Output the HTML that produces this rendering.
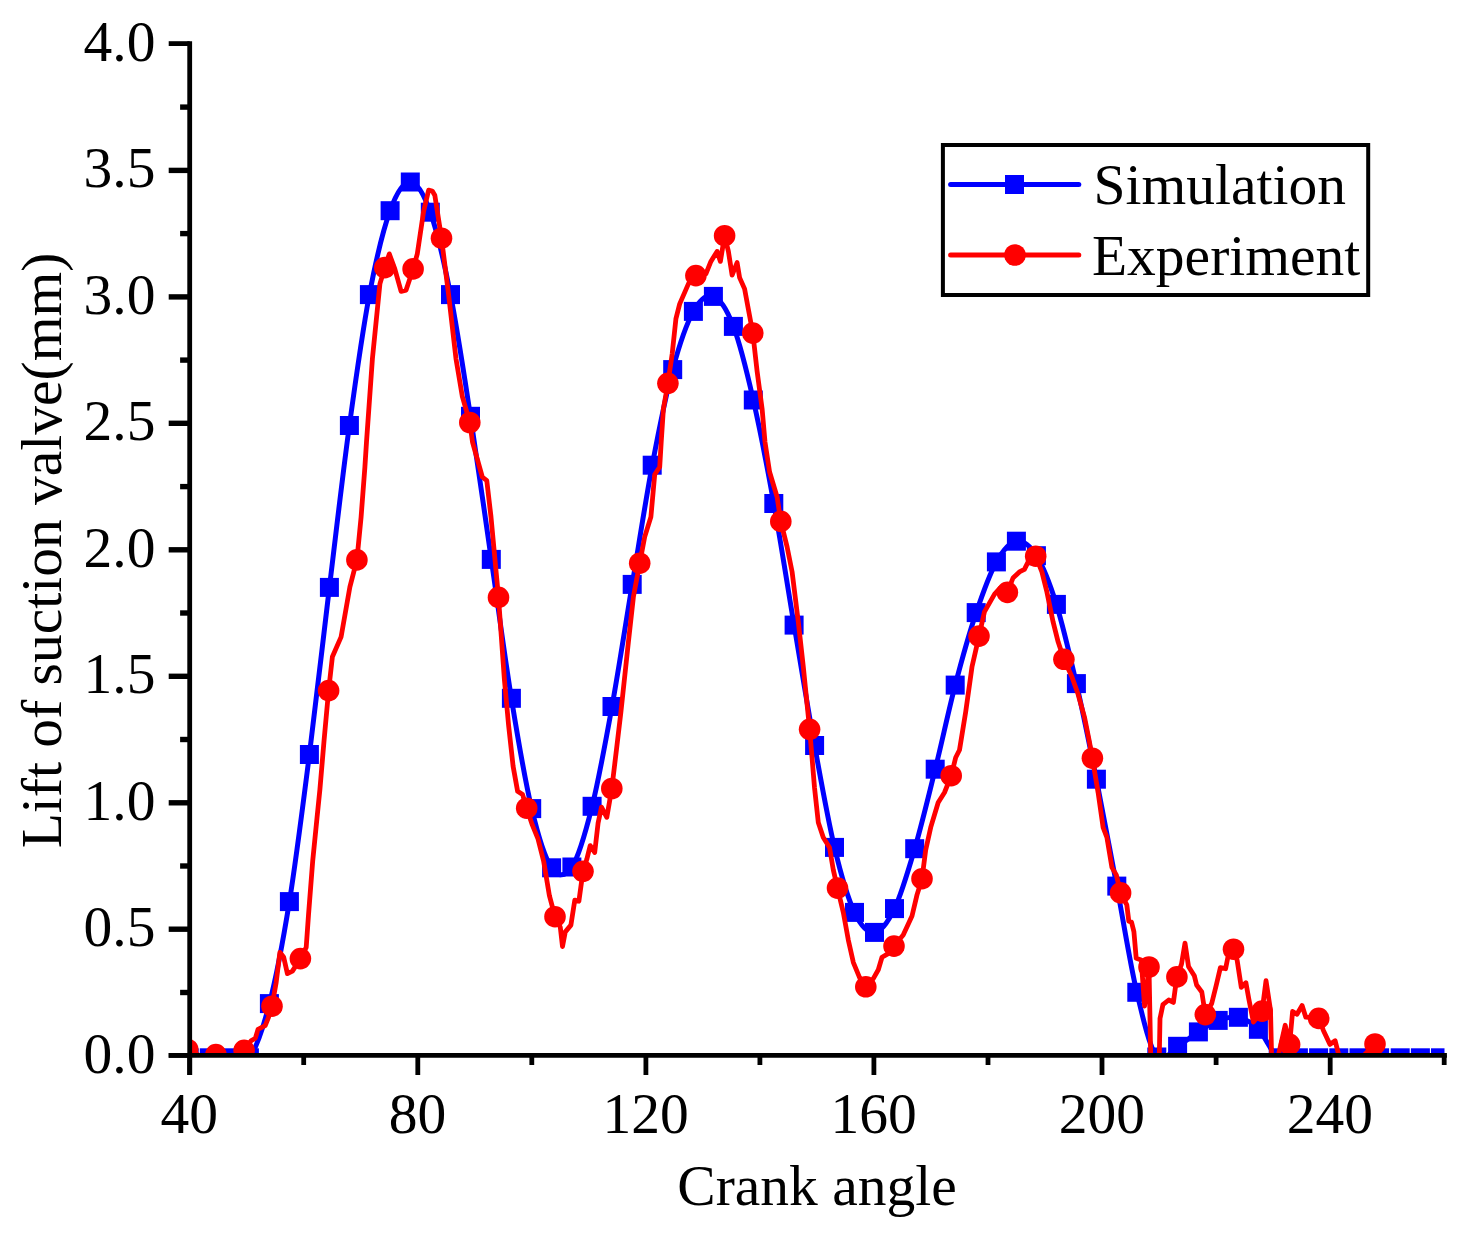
<!DOCTYPE html>
<html><head><meta charset="utf-8"><title>Lift of suction valve</title>
<style>
html,body{margin:0;padding:0;background:#fff}
svg{display:block}
text{font-family:"Liberation Serif",serif;font-size:57.5px;fill:#000}
</style></head>
<body>
<svg width="1465" height="1234" viewBox="0 0 1465 1234">
<rect width="1465" height="1234" fill="#fff"/>
<defs><clipPath id="fr"><rect x="189.7" y="43.6" width="1254.8" height="1011.8"/></clipPath></defs>
<g clip-path="url(#fr)">
<path d="M189.2 1057.8C192.5 1057.8 202.6 1057.8 209.3 1057.8C216 1057.8 222.7 1057.8 229.4 1057.8C236.1 1057.8 242.7 1066.8 249.4 1057.8C256.1 1048.8 262.7 1029.6 269.4 1003.6C276.1 977.6 282.7 943.1 289.4 901.6C296.1 860.1 302.7 806.9 309.4 754.5C316.1 702.1 322.7 642.2 329.4 587.4C336.1 532.6 342.7 474.3 349.4 425.5C356.1 376.7 362.6 330.4 369.4 294.6C376.2 258.8 383.3 229.5 390.1 210.7C396.9 191.9 403.6 181.8 410.3 182C417 182.2 423.6 193.4 430.3 212.2C437 231 443.8 260.6 450.5 294.6C457.2 328.6 463.7 372.2 470.5 416.3C477.3 460.4 484.5 512.4 491.3 559.4C498.1 606.4 504.7 656.8 511.4 698.3C518.1 739.8 525 780.4 531.7 808.6C538.4 836.9 544.9 858.1 551.6 867.8C558.3 877.5 565.1 877.2 571.9 867C578.6 856.8 585.4 833 592.1 806.3C598.8 779.5 605.3 743.5 612 706.5C618.7 669.5 625.5 624.6 632.2 584.4C638.9 544.2 645.5 501 652.2 465.2C659 429.4 665.8 395.2 672.7 369.6C679.6 344 686.6 323.6 693.4 311.4C700.2 299.2 706.7 293.9 713.4 296.4C720.1 298.9 726.8 309.1 733.4 326.4C740 343.7 746.6 370.5 753.3 400C760 429.5 767 466 773.8 503.5C780.6 541 787.3 584.8 794.1 625.1C800.9 665.4 807.9 708.5 814.6 745.5C821.3 782.5 827.9 819.6 834.5 847.4C841.1 875.2 847.8 898.2 854.5 912.4C861.2 926.6 867.8 933 874.5 932.4C881.2 931.8 887.8 922.5 894.5 908.6C901.2 894.7 907.9 871.9 914.7 848.7C921.5 825.5 928.5 796.5 935.2 769.2C942 741.9 948.4 711.2 955.2 685.1C962 659 969.3 633.1 976.2 612.6C983.1 592.1 989.7 573.8 996.4 561.9C1003.1 550 1009.7 542.2 1016.4 541.2C1023.1 540.2 1029.7 545.2 1036.4 555.7C1043.1 566.2 1049.7 583.1 1056.4 604.4C1063.1 625.7 1069.7 654.5 1076.4 683.6C1083.1 712.7 1089.7 745.5 1096.4 779.2C1103.1 813 1110.1 850.6 1116.8 886.1C1123.5 921.6 1130.1 963.8 1136.8 992.3C1143.5 1020.8 1150 1048 1156.8 1057C1163.6 1066 1170.7 1050.5 1177.6 1046.3C1184.5 1042.1 1191.6 1036.2 1198.4 1031.9C1205.2 1027.6 1211.5 1022.8 1218.2 1020.4C1224.9 1018 1231.7 1015.8 1238.4 1017.3C1245.1 1018.8 1251.8 1022.5 1258.4 1029.3C1265 1036 1271.5 1053 1278.2 1057.8C1284.9 1062.5 1291.7 1057.8 1298.4 1057.8C1305.1 1057.8 1311.9 1057.8 1318.6 1057.8C1325.3 1057.8 1332.1 1057.8 1338.8 1057.8C1345.5 1057.8 1352.2 1057.8 1359 1057.8C1365.8 1057.8 1372.7 1057.8 1379.6 1057.8C1386.5 1057.8 1393.4 1057.8 1400.2 1057.8C1407 1057.8 1413.7 1057.8 1420.4 1057.8C1427.1 1057.8 1437.2 1057.8 1440.5 1057.8" fill="none" stroke="#00f" stroke-width="5" stroke-linejoin="round"/>
<g fill="#00f"><rect x="179.7" y="1048.3" width="19" height="19"/><rect x="199.8" y="1048.3" width="19" height="19"/><rect x="219.9" y="1048.3" width="19" height="19"/><rect x="239.9" y="1048.3" width="19" height="19"/><rect x="259.9" y="994.1" width="19" height="19"/><rect x="279.9" y="892.1" width="19" height="19"/><rect x="299.9" y="745" width="19" height="19"/><rect x="319.9" y="577.9" width="19" height="19"/><rect x="339.9" y="416" width="19" height="19"/><rect x="359.9" y="285.1" width="19" height="19"/><rect x="380.6" y="201.2" width="19" height="19"/><rect x="400.8" y="172.5" width="19" height="19"/><rect x="420.8" y="202.7" width="19" height="19"/><rect x="441" y="285.1" width="19" height="19"/><rect x="461" y="406.8" width="19" height="19"/><rect x="481.8" y="549.9" width="19" height="19"/><rect x="501.9" y="688.8" width="19" height="19"/><rect x="522.2" y="799.1" width="19" height="19"/><rect x="542.1" y="858.3" width="19" height="19"/><rect x="562.4" y="857.5" width="19" height="19"/><rect x="582.6" y="796.8" width="19" height="19"/><rect x="602.5" y="697" width="19" height="19"/><rect x="622.7" y="574.9" width="19" height="19"/><rect x="642.7" y="455.7" width="19" height="19"/><rect x="663.2" y="360.1" width="19" height="19"/><rect x="683.9" y="301.9" width="19" height="19"/><rect x="703.9" y="286.9" width="19" height="19"/><rect x="723.9" y="316.9" width="19" height="19"/><rect x="743.8" y="390.5" width="19" height="19"/><rect x="764.3" y="494" width="19" height="19"/><rect x="784.6" y="615.6" width="19" height="19"/><rect x="805.1" y="736" width="19" height="19"/><rect x="825" y="837.9" width="19" height="19"/><rect x="845" y="902.9" width="19" height="19"/><rect x="865" y="922.9" width="19" height="19"/><rect x="885" y="899.1" width="19" height="19"/><rect x="905.2" y="839.2" width="19" height="19"/><rect x="925.7" y="759.7" width="19" height="19"/><rect x="945.7" y="675.6" width="19" height="19"/><rect x="966.7" y="603.1" width="19" height="19"/><rect x="986.9" y="552.4" width="19" height="19"/><rect x="1006.9" y="531.7" width="19" height="19"/><rect x="1026.9" y="546.2" width="19" height="19"/><rect x="1046.9" y="594.9" width="19" height="19"/><rect x="1066.9" y="674.1" width="19" height="19"/><rect x="1086.9" y="769.7" width="19" height="19"/><rect x="1107.3" y="876.6" width="19" height="19"/><rect x="1127.3" y="982.8" width="19" height="19"/><rect x="1147.3" y="1047.5" width="19" height="19"/><rect x="1168.1" y="1036.8" width="19" height="19"/><rect x="1188.9" y="1022.4" width="19" height="19"/><rect x="1208.7" y="1010.9" width="19" height="19"/><rect x="1228.9" y="1007.8" width="19" height="19"/><rect x="1248.9" y="1019.8" width="19" height="19"/><rect x="1268.7" y="1048.3" width="19" height="19"/><rect x="1288.9" y="1048.3" width="19" height="19"/><rect x="1309.1" y="1048.3" width="19" height="19"/><rect x="1329.3" y="1048.3" width="19" height="19"/><rect x="1349.5" y="1048.3" width="19" height="19"/><rect x="1370.1" y="1048.3" width="19" height="19"/><rect x="1390.7" y="1048.3" width="19" height="19"/><rect x="1410.9" y="1048.3" width="19" height="19"/><rect x="1431" y="1048.3" width="19" height="19"/></g>
<path d="M187.7 1049.5L196 1053.5L202 1057.5L215.9 1054.6L227 1058L236 1057.5L244.1 1050.4L251 1040.8L255.4 1038.2L258 1029.3L265.2 1025.7L268.7 1016.9L272 1006.2L276.2 982.3L279.9 952.3L283.7 957.3L287.4 973.6L292.4 971.1L300.4 958.6L306.2 947.3L308.5 915L312.7 861L317 818L319.9 789.6L324.1 740L328.6 690.6L332.4 656.8L341.1 636.9L349.9 586.9L356.9 559.9L361.1 516.9L364.9 467L366.5 442L372.4 358.8L379.9 283.9L384.8 267.6L389.3 253.9L394.8 268.9L401.1 291.4L406.1 290.1L413.1 268.9L417.3 253.9L423.6 211.4L428.6 190.2L432.3 191L434.8 195.2L441.5 238.2L448.5 293.9L456 358.8L462.3 396.3L469.8 422.5L472.5 442L476 454.5L482.3 477L486.8 480.7L491 516.9L498.5 597.4L504.4 679.6L508.6 725.4L513.1 766.2L517.6 791.2L522.6 794.6L526.7 808.2L532.4 825.2L538 838.8L543.7 861.5L549.4 895.6L555 916.7L560.3 927.3L562.5 946.6L565.3 931.9L570.9 925.1L574.8 900.1L578.9 901.2L583 871.3L586.8 859.3L590.2 845.6L594.7 852.5L598.1 823L601.5 807.1L606.8 817.3L611.8 788.5L616.6 748.5L620.8 713L628.4 641.9L633.4 596.9L639.7 563.2L644.7 536.9L650.9 516.9L654.7 474.5L659.7 467L661.2 442L663.4 408.8L667.9 383.3L672.2 353.8L675.9 318.9L679.7 303.9L688.4 283.9L695.9 275.6L705.9 273.9L710.9 261.4L717.1 251.4L720.4 261.4L724.6 235.7L728.4 251.4L732.1 275.1L737.1 262.6L739.6 277.6L744.6 288.9L748.3 308.9L752.8 333.1L757.1 371.3L762.1 408.8L765 442L769.6 472L777.1 497L780.8 521.4L787.1 546.9L792.1 571.9L798.3 621.9L803.3 666.8L809.6 729.3L811.4 750L814.5 787.5L818.3 822.4L823.3 837.4L829.5 847.4L833.3 869.9L837.5 888.1L843.3 912.4L848.3 939.9L853.3 962.3L859.5 977.3L865.8 986.8L873.3 978.6L878.3 969.8L882 957.3L888.2 953.6L894 946.1L903.2 934.9L912 916L917 894.9L922 878.7L925.7 849.9L930.7 827.4L938.2 802.5L944.5 792.5L951.2 775.7L955.7 757.5L959.5 750L965.7 711.8L972 666.8L979 636.1L984.4 611.9L989.4 603.1L994.4 594.4L1000 588L1007.4 592.4L1013 578L1019.4 571.9L1024.4 569.4L1029.4 559.4L1035.7 556.2L1041.9 571.9L1046.9 591.9L1053.1 621.9L1058.1 641.8L1063.9 659.3L1071.9 676.8L1078.1 694.3L1084.4 716.8L1089.4 741.8L1092.4 758.2L1098.1 792.5L1103.1 827.4L1106.9 837.4L1111.9 867.4L1116.3 874.9L1120.6 892.9L1126.8 904.9L1128.8 921.1L1131.5 922L1133.9 931.6L1136.2 958.3L1141.2 960L1144.6 1006L1149 967L1150.7 1056L1159.3 1056L1160 1018.6L1162.9 1004.7L1168.7 1000L1173.4 1002.4L1175.1 989.6L1176.9 976.9L1181.5 964.1L1185 943.2L1188.5 966.4L1194.3 975.7L1196.6 985L1201.8 992L1205.3 1014.6L1211.7 1003.5L1216.3 985L1220.4 967.6L1225.6 968.7L1227.9 957.1L1233.5 949.2L1237.2 960.6L1241.3 987.3L1245.9 982.7L1248.8 998.9L1253.4 1022.1L1262.1 1011.1L1266 980.7L1270.5 1010L1271.6 1056L1278.2 1056L1285.2 1025.3L1289.6 1044.4L1292.6 1011.4L1297 1014.3L1302.1 1005.5L1305.8 1017.2L1318.7 1018.4L1323.4 1030.4L1330 1044.4L1335.1 1040.7L1339.3 1057L1362.4 1057L1375 1044L1381 1058" fill="none" stroke="#f00" stroke-width="4.8" stroke-linejoin="round" stroke-linecap="round"/>
<g fill="#f00"><circle cx="187.7" cy="1049.5" r="10.8"/><circle cx="215.9" cy="1054.6" r="10.8"/><circle cx="244.1" cy="1050.4" r="10.8"/><circle cx="272" cy="1006.2" r="10.8"/><circle cx="300.4" cy="958.6" r="10.8"/><circle cx="328.6" cy="690.6" r="10.8"/><circle cx="356.9" cy="559.9" r="10.8"/><circle cx="384.8" cy="267.6" r="10.8"/><circle cx="413.1" cy="268.9" r="10.8"/><circle cx="441.5" cy="238.2" r="10.8"/><circle cx="469.8" cy="422.5" r="10.8"/><circle cx="498.5" cy="597.4" r="10.8"/><circle cx="526.7" cy="808.2" r="10.8"/><circle cx="555" cy="916.7" r="10.8"/><circle cx="583" cy="871.3" r="10.8"/><circle cx="611.8" cy="788.5" r="10.8"/><circle cx="639.7" cy="563.2" r="10.8"/><circle cx="667.9" cy="383.3" r="10.8"/><circle cx="695.9" cy="275.6" r="10.8"/><circle cx="724.6" cy="235.7" r="10.8"/><circle cx="752.8" cy="333.1" r="10.8"/><circle cx="780.8" cy="521.4" r="10.8"/><circle cx="809.6" cy="729.3" r="10.8"/><circle cx="837.5" cy="888.1" r="10.8"/><circle cx="865.8" cy="986.8" r="10.8"/><circle cx="894" cy="946.1" r="10.8"/><circle cx="922" cy="878.7" r="10.8"/><circle cx="951.2" cy="775.7" r="10.8"/><circle cx="979" cy="636.1" r="10.8"/><circle cx="1007.4" cy="592.4" r="10.8"/><circle cx="1035.7" cy="556.2" r="10.8"/><circle cx="1063.9" cy="659.3" r="10.8"/><circle cx="1092.4" cy="758.2" r="10.8"/><circle cx="1120.6" cy="892.9" r="10.8"/><circle cx="1149" cy="967" r="10.8"/><circle cx="1176.9" cy="976.9" r="10.8"/><circle cx="1205.3" cy="1014.6" r="10.8"/><circle cx="1233.5" cy="949.2" r="10.8"/><circle cx="1262.1" cy="1011.1" r="10.8"/><circle cx="1289.6" cy="1044.4" r="10.8"/><circle cx="1318.7" cy="1018.4" r="10.8"/><circle cx="1375" cy="1044" r="10.8"/></g>
</g>
<g stroke="#000" stroke-width="4.8" fill="none">
<path d="M189.7 41.2V1075"/>
<path d="M168.7 1055.4H1446.9"/>
<path d="M168.7 1055.4H189.7"/><path stroke-width="5.4" d="M180.1 992.5H189.7"/><path stroke-width="5.4" d="M168.7 929.2H189.7"/><path stroke-width="5.4" d="M180.1 866H189.7"/><path stroke-width="5.4" d="M168.7 802.8H189.7"/><path stroke-width="5.4" d="M180.1 739.5H189.7"/><path stroke-width="5.4" d="M168.7 676.3H189.7"/><path stroke-width="5.4" d="M180.1 613H189.7"/><path stroke-width="5.4" d="M168.7 549.8H189.7"/><path stroke-width="5.4" d="M180.1 486.6H189.7"/><path stroke-width="5.4" d="M168.7 423.3H189.7"/><path stroke-width="5.4" d="M180.1 360.1H189.7"/><path stroke-width="5.4" d="M168.7 296.9H189.7"/><path stroke-width="5.4" d="M180.1 233.6H189.7"/><path stroke-width="5.4" d="M168.7 170.4H189.7"/><path stroke-width="5.4" d="M180.1 107.1H189.7"/><path d="M168.7 43.6H189.7"/><path d="M189.7 1055.4V1075"/><path d="M303.7 1055.4V1065"/><path d="M417.8 1055.4V1075"/><path d="M531.8 1055.4V1065"/><path d="M645.9 1055.4V1075"/><path d="M759.9 1055.4V1065"/><path d="M873.9 1055.4V1075"/><path d="M988 1055.4V1065"/><path d="M1102 1055.4V1075"/><path d="M1216.1 1055.4V1065"/><path d="M1330.2 1055.4V1075"/><path d="M1444.2 1055.4V1065"/>
</g>
<g><text x="155.4" y="1072.6" text-anchor="end">0.0</text><text x="155.4" y="946.1" text-anchor="end">0.5</text><text x="155.4" y="819.7" text-anchor="end">1.0</text><text x="155.4" y="693.2" text-anchor="end">1.5</text><text x="155.4" y="566.7" text-anchor="end">2.0</text><text x="155.4" y="440.2" text-anchor="end">2.5</text><text x="155.4" y="313.8" text-anchor="end">3.0</text><text x="155.4" y="187.3" text-anchor="end">3.5</text><text x="155.4" y="60.8" text-anchor="end">4.0</text></g>
<g><text x="189.3" y="1133" text-anchor="middle">40</text><text x="417.4" y="1133" text-anchor="middle">80</text><text x="645.6" y="1133" text-anchor="middle">120</text><text x="873.6" y="1133" text-anchor="middle">160</text><text x="1101.8" y="1133" text-anchor="middle">200</text><text x="1329.9" y="1133" text-anchor="middle">240</text></g>
<text x="817" y="1205" text-anchor="middle">Crank angle</text>
<text transform="translate(61.3,550.5) rotate(-90)" text-anchor="middle">Lift of suction valve(mm)</text>
<rect x="942.9" y="145" width="425.3" height="150" fill="#fff" stroke="#000" stroke-width="4"/>
<path d="M950.6 184.5H1078.8" stroke="#00f" stroke-width="5" stroke-linecap="round"/>
<rect x="1005" y="175" width="19" height="19" fill="#00f"/>
<path d="M950.6 255H1078.8" stroke="#f00" stroke-width="5" stroke-linecap="round"/>
<circle cx="1015" cy="255" r="10.8" fill="#f00"/>
<text x="1093.5" y="203.5">Simulation</text>
<text x="1092" y="274.5">Experiment</text>
</svg>
</body></html>
